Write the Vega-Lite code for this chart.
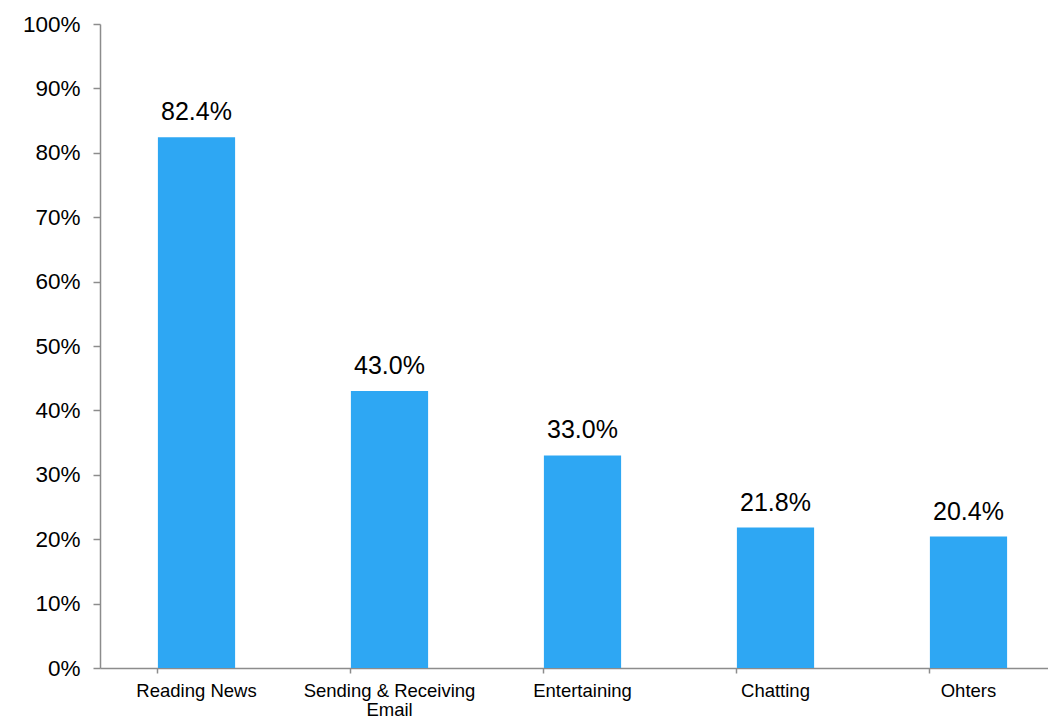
{
  "$schema": "https://vega.github.io/schema/vega-lite/v6.json",
  "width": 948,
  "height": 644,
  "autosize": {"type": "none"},
  "padding": {"left": 100, "top": 24, "right": 0, "bottom": 51},
  "background": "white",
  "config": {"view": {"stroke": null}, "font": "Liberation Sans"},
  "data": {"values": [
    {"category": "Reading News", "value": 0.824},
    {"category": "Sending & Receiving Email", "value": 0.43},
    {"category": "Entertaining", "value": 0.33},
    {"category": "Chatting", "value": 0.218},
    {"category": "Ohters", "value": 0.204}
  ]},
  "encoding": {
    "x": {
      "field": "category", "type": "nominal", "sort": null,
      "scale": {"paddingInner": 0.6, "paddingOuter": 0.3, "range": [0, 965]},
      "axis": {
        "title": null, "labelAngle": 0, "labelFontSize": 18.5, "labelColor": "black",
        "labelPadding": 8, "tickSize": 5, "tickColor": "#8c8c8c", "domainColor": "#8c8c8c",
        "domainWidth": 1.5, "tickWidth": 1.5, "bandPosition": 0, "grid": false,
        "labelLimit": 300, "labelLineHeight": 19, "labelBaseline": "top",
        "labelExpr": "datum.value == 'Sending & Receiving Email' ? ['Sending & Receiving', 'Email'] : datum.value"
      }
    },
    "y": {
      "field": "value", "type": "quantitative",
      "scale": {"domain": [0, 1], "nice": false},
      "axis": {
        "title": null, "format": ".0%", "values": [0, 0.1, 0.2, 0.3, 0.4, 0.5, 0.6, 0.7, 0.8, 0.9, 1],
        "grid": false, "labelFontSize": 22.5, "labelColor": "black", "labelPadding": 13,
        "tickSize": 7, "tickColor": "#8c8c8c", "domainColor": "#8c8c8c",
        "domainWidth": 1.5, "tickWidth": 1.5
      }
    }
  },
  "layer": [
    {"mark": {"type": "bar", "color": "#2EA7F3"}},
    {"mark": {"type": "text", "fontSize": 25, "dy": -17, "baseline": "alphabetic", "color": "black"},
     "encoding": {"text": {"field": "value", "type": "quantitative", "format": ".1%"}}}
  ]
}
